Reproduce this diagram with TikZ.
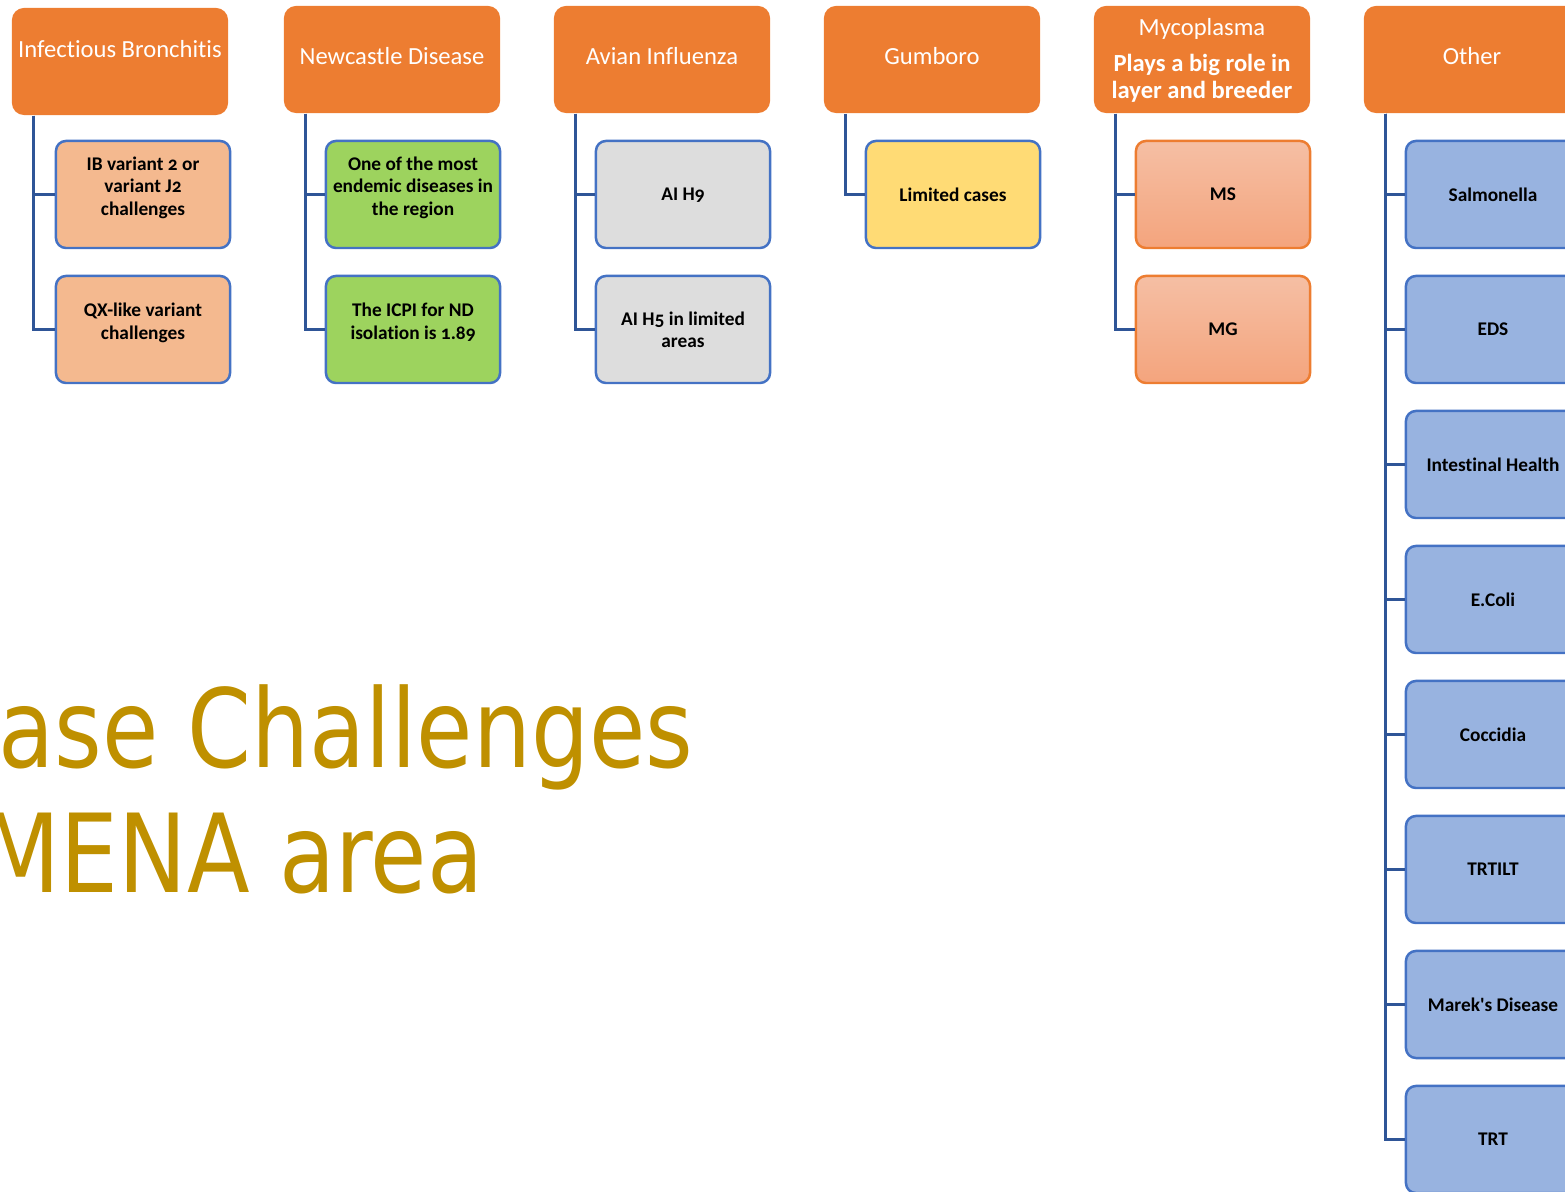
\documentclass[tikz,border=0pt]{standalone}
\usepackage{fontspec}
\setmainfont{Carlito}[Numbers=OldStyle, Ligatures=NoCommon]
\newfontfamily\titlefont{DejaVu Sans}[FakeStretch=0.84]
\usetikzlibrary{positioning}
\definecolor{headorange}{RGB}{237,125,49}
\definecolor{linkblue}{RGB}{47,85,151}
\definecolor{boxblue}{RGB}{68,114,196}
\definecolor{ibfill}{RGB}{244,185,143}
\definecolor{ndfill}{RGB}{157,211,94}
\definecolor{aifill}{RGB}{221,221,221}
\definecolor{gbfill}{RGB}{255,219,117}
\definecolor{mytop}{RGB}{245,191,164}
\definecolor{mybot}{RGB}{244,164,125}
\definecolor{othfill}{RGB}{152,179,224}
\definecolor{titlegold}{RGB}{191,144,0}

\tikzset{
  head/.style={rectangle, rounded corners=0.12cm, fill=headorange, text=white, minimum width=2.16cm, minimum height=1.07cm, align=center, inner sep=1pt, font=\fontsize{7}{8.4}\selectfont},
  leaf/.style={rectangle, rounded corners=0.1cm, draw=boxblue, line width=0.7pt, minimum width=1.74cm, minimum height=1.07cm, align=center, inner sep=1pt, font=\fontsize{5.5}{6.4}\selectfont\bfseries},
  myco/.style={leaf, draw=headorange, top color=mytop, bottom color=mybot},
  link/.style={draw=linkblue, line width=0.75pt},
  title/.style={anchor=base east, inner sep=0pt, text=titlegold, font=\titlefont\fontsize{31}{31}\selectfont}
}

\begin{document}
\begin{tikzpicture}[x=0.01cm, y=-0.01cm]
  \useasboundingbox (0,0) rectangle (1565,1192);
  \clip (0,0) rectangle (1565,1192);

  % disease groups
  \node[head, text depth=0.25cm] (h1) at (120,61.5) {Infectious Bronchitis};
  \node[head, text depth=0.07cm] (h2) at (392,59.5) {Newcastle Disease};
  \node[head, text depth=0.07cm] (h3) at (662,59.5) {Avian Influenza};
  \node[head, text depth=0.07cm] (h4) at (932,59.5) {Gumboro};
  \node[head, font=\fontsize{7}{7.7}\selectfont, text depth=0.02cm] (h5) at (1202,59.5) {Mycoplasma\\[2.6pt]{\bfseries Plays a big role in}\\{\bfseries layer and breeder}};
  \node[head, text depth=0.07cm] (h6) at (1472,59.5) {Other};

  \foreach \n/\x/\y/\f/\d/\t in {c11/143/194.5/ibfill/0.17cm/{IB variant 2 or\\variant J2\\challenges},
                                 c12/143/329.5/ibfill/0.17cm/{QX-like variant\\challenges},
                                 c21/413/194.5/ndfill/0.17cm/{One of the most\\endemic diseases in\\the region},
                                 c22/413/329.5/ndfill/0.17cm/{The ICPI for ND\\isolation is 1.89},
                                 c31/683/194.5/aifill/0cm/{AI H9},
                                 c32/683/329.5/aifill/0cm/{AI H5 in limited\\areas},
                                 c41/953/194.5/gbfill/0cm/{Limited cases}} {
    \node[leaf, fill=\f, text depth=\d] (\n) at (\x,\y) {\t};
  }
  \node[myco] (c51) at (1223,194.5) {MS};
  \node[myco] (c52) at (1223,329.5) {MG};
  \foreach \i/\t in {1/Salmonella,2/EDS,3/Intestinal Health,4/E.Coli,5/Coccidia,6/TRTILT,7/Marek\textquotesingle s Disease,8/TRT} {
    \node[leaf, fill=othfill] (c6\i) at (1493,59.5+135*\i) {\t};
  }

  % tree lines
  \foreach \h/\c in {h1/c11,h1/c12,h2/c21,h2/c22,h3/c31,h3/c32,h4/c41,h5/c51,h5/c52} {
    \draw[link] ([xshift=0.22cm]\h.south west) |- (\c.west);
  }
  \foreach \i in {1,...,8} {
    \draw[link] ([xshift=0.22cm]h6.south west) |- (c6\i.west);
  }

  \node[title] (ttl1) at (694,768) {ase Challenges};
  \node[title] (ttl2) at (484,893) {MENA area};
\end{tikzpicture}
\end{document}
